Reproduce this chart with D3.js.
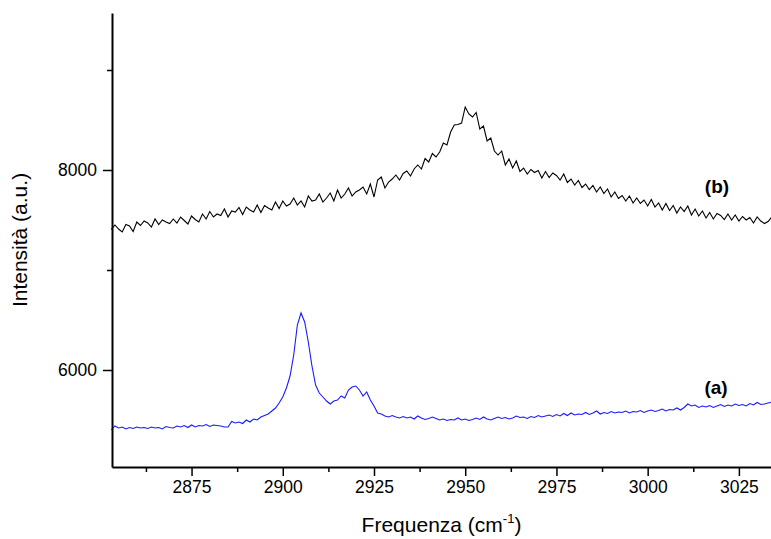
<!DOCTYPE html>
<html>
<head>
<meta charset="utf-8">
<script src="https://cdn.jsdelivr.net/npm/d3@7"></script>
<style>
  body { margin: 0; background: #fff; }
  svg { display: block; font-family: "Liberation Sans", Arial, sans-serif; }
</style>
</head>
<body>
<div id="chart"></div>
<script>
"use strict";

// == DATA ==
// wavenumber grid of the spectra (cm-1), one sample per cm-1
var freqStart = 2853, freqEnd = 3034;

// spectrum (b), black
var spectrumB = [
  7407, 7450, 7410, 7380, 7455, 7440, 7385, 7480, 7445, 7490,
  7470, 7430, 7510, 7455, 7500, 7480, 7465, 7510, 7470, 7530,
  7495, 7460, 7540, 7505, 7480, 7560, 7510, 7585, 7530, 7560,
  7545, 7610, 7530, 7590, 7580, 7625, 7555, 7630, 7600, 7580,
  7650, 7575, 7645, 7620, 7600, 7680, 7615, 7690, 7640, 7660,
  7720, 7650, 7690, 7630, 7740, 7690, 7700, 7760, 7680, 7720,
  7770, 7690, 7800, 7720, 7760, 7820, 7740, 7780, 7800, 7830,
  7760, 7860, 7730, 7900, 7930, 7820, 7880, 7910, 7950, 7900,
  7965, 7990, 7940, 8010, 8050, 8010, 8115, 8080, 8165, 8130,
  8180, 8270, 8250, 8380, 8450, 8455, 8470, 8630, 8560, 8530,
  8575, 8410, 8440, 8290, 8320, 8190, 8150, 8190, 8050, 8110,
  8020, 8090, 7985, 8020, 7960, 8005, 7975, 7995, 7920, 7985,
  7925, 7970, 7945, 7900, 7960, 7875, 7910, 7850, 7895, 7825,
  7860, 7805, 7845, 7780, 7830, 7765, 7810, 7730, 7780, 7715,
  7745, 7690, 7740, 7670, 7720, 7665, 7700, 7640, 7705, 7630,
  7670, 7600, 7665, 7595, 7645, 7570, 7630, 7585, 7640, 7550,
  7610, 7540, 7590, 7520, 7575, 7510, 7565, 7545, 7505, 7560,
  7500, 7550, 7490, 7535, 7500, 7525, 7470, 7530, 7490, 7465,
  7485, 7530
];

// spectrum (a), blue
var spectrumA = [
  5400, 5440, 5420, 5430, 5410, 5425, 5415, 5430, 5420, 5425,
  5415, 5430, 5420, 5425, 5410, 5435, 5425, 5420, 5440, 5430,
  5445, 5425, 5450, 5430, 5445, 5440, 5455, 5435, 5450, 5445,
  5440, 5430, 5430, 5485, 5470, 5480, 5465, 5500, 5480, 5510,
  5500, 5530, 5545, 5560, 5590, 5620, 5670, 5730, 5820, 5940,
  6150, 6450, 6570, 6480, 6280, 6040, 5850, 5770, 5730, 5690,
  5660, 5690, 5700, 5740, 5720, 5800, 5830, 5840, 5800, 5740,
  5780, 5700, 5640, 5570, 5560, 5540, 5530, 5545, 5530, 5520,
  5535, 5520, 5530, 5510, 5540, 5520, 5505, 5515, 5530, 5515,
  5500, 5510, 5495, 5505, 5500, 5520, 5500, 5510, 5495, 5505,
  5520, 5505, 5530, 5510, 5500, 5515, 5530, 5515, 5525, 5510,
  5520, 5540, 5525, 5530, 5515, 5535, 5525, 5545, 5530, 5540,
  5550, 5535, 5555, 5540, 5565, 5545, 5570, 5550, 5560, 5555,
  5575, 5555, 5570, 5590, 5560, 5575, 5565, 5585, 5570, 5580,
  5575, 5590, 5570, 5585, 5580, 5595, 5575, 5590, 5600, 5585,
  5595, 5610, 5590, 5605, 5600, 5620, 5600, 5625, 5660, 5640,
  5650, 5625, 5640, 5630, 5645, 5625, 5640, 5655, 5635, 5650,
  5640, 5660, 5645, 5655, 5640, 5665, 5650, 5675, 5655, 5660,
  5670, 5680
];

var xTicks = [2875, 2900, 2925, 2950, 2975, 3000, 3025];
var xMinorTicks = [2862.5, 2887.5, 2912.5, 2937.5, 2962.5, 2987.5, 3012.5];
var yTicks = [6000, 8000];
var yMinorTicks = [7000, 9000];

// == BOILERPLATE ==
var width = 771, height = 539;
var margin = { top: 13, right: 0, bottom: 72, left: 112 };

var svg = d3.select("#chart")
            .append("svg")
            .attr("width", width)
            .attr("height", height);

var x = d3.scaleLinear()
          .domain([2853.2, 3033.8])
          .range([margin.left, width - margin.right]);

var y = d3.scaleLinear()
          .domain([5030, 9570])
          .range([height - margin.bottom, margin.top]);

var freqs = d3.range(freqStart, freqEnd + 1, 1);

var line = d3.line()
             .x(function (d) { return x(d[0]); })
             .y(function (d) { return y(d[1]); });

// == CURVES ==
svg.append("path")
   .datum(d3.zip(freqs, spectrumB))
   .attr("fill", "none")
   .attr("stroke", "#000")
   .attr("stroke-width", 1.1)
   .attr("d", line);

svg.append("path")
   .datum(d3.zip(freqs, spectrumA))
   .attr("fill", "none")
   .attr("stroke", "#1a1aff")
   .attr("stroke-width", 1.1)
   .attr("d", line);

// == AXES ==
var xAxis = svg.append("g")
   .attr("transform", "translate(0," + (height - margin.bottom) + ")")
   .call(d3.axisBottom(x).tickValues(xTicks).tickSize(9).tickSizeOuter(0)
           .tickPadding(5).tickFormat(d3.format("d")));

xAxis.selectAll(".tick line").attr("stroke-width", 1.5);
xAxis.selectAll(".tick text").attr("font-size", "17.5px").attr("fill", "#000");
xAxis.select(".domain").attr("stroke-width", 2);

svg.append("g")
   .attr("transform", "translate(0," + (height - margin.bottom) + ")")
   .call(d3.axisBottom(x).tickValues(xMinorTicks).tickSize(5).tickSizeOuter(0).tickFormat(""))
   .call(function (g) { g.select(".domain").remove(); })
   .selectAll(".tick line").attr("stroke-width", 1.5);

var yAxis = svg.append("g")
   .attr("transform", "translate(" + margin.left + ",0)")
   .call(d3.axisLeft(y).tickValues(yTicks).tickSize(9).tickSizeOuter(0)
           .tickPadding(6).tickFormat(d3.format("d")));

yAxis.selectAll(".tick line").attr("stroke-width", 1.5);
yAxis.selectAll(".tick text").attr("font-size", "17.5px").attr("fill", "#000");
yAxis.select(".domain").attr("stroke-width", 2);

svg.append("g")
   .attr("transform", "translate(" + margin.left + ",0)")
   .call(d3.axisLeft(y).tickValues(yMinorTicks).tickSize(5).tickSizeOuter(0).tickFormat(""))
   .call(function (g) { g.select(".domain").remove(); })
   .selectAll(".tick line").attr("stroke-width", 1.5);

// == LABELS ==
svg.append("text")
   .attr("transform", "translate(27," + ((margin.top + height - margin.bottom) / 2) + ") rotate(-90)")
   .attr("text-anchor", "middle")
   .attr("font-size", "21px")
   .text("Intensità (a.u.)");

var xLabel = svg.append("text")
   .attr("x", (margin.left + width) / 2)
   .attr("y", 532)
   .attr("text-anchor", "middle")
   .attr("font-size", "21px");
xLabel.append("tspan").text("Frequenza (cm");
xLabel.append("tspan").attr("font-size", "13px").attr("dy", -9).text("-1");
xLabel.append("tspan").attr("dy", 9).text(")");

svg.append("text")
   .attr("x", 717)
   .attr("y", 193)
   .attr("text-anchor", "middle")
   .attr("font-size", "19px")
   .attr("font-weight", "bold")
   .text("(b)");

svg.append("text")
   .attr("x", 716)
   .attr("y", 394)
   .attr("text-anchor", "middle")
   .attr("font-size", "19px")
   .attr("font-weight", "bold")
   .text("(a)");
</script>
</body>
</html>
